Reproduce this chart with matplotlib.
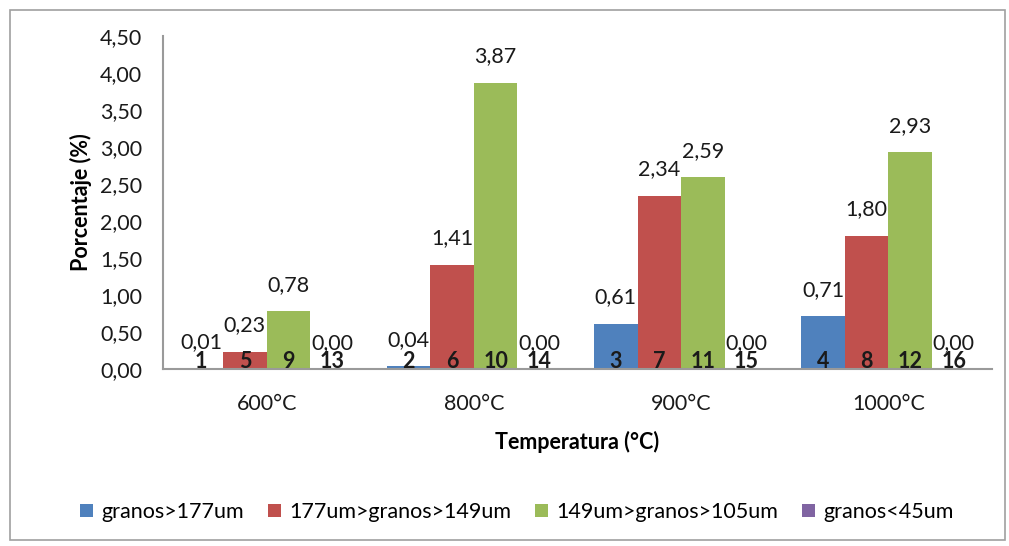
import matplotlib
matplotlib.use("Agg")
import matplotlib.pyplot as plt
from matplotlib.patches import Rectangle
import numpy as np

plt.rcParams['font.family'] = ['Lato', 'DejaVu Sans']

categories = ["600°C", "800°C", "900°C", "1000°C"]
series_names = ["granos>177um", "177um>granos>149um", "149um>granos>105um", "granos<45um"]
blue_vals = [0.01, 0.04, 0.61, 0.71]
red_vals = [0.23, 1.41, 2.34, 1.80]
green_vals = [0.78, 3.87, 2.59, 2.93]
purple_vals = [0.00, 0.00, 0.00, 0.00]
bar_numbers = [[1, 2, 3, 4], [5, 6, 7, 8], [9, 10, 11, 12], [13, 14, 15, 16]]
yticks = [0.0, 0.5, 1.0, 1.5, 2.0, 2.5, 3.0, 3.5, 4.0, 4.5]

colors = ["#4F81BD", "#C0504D", "#9BBB59", "#8064A2"]
all_vals = [blue_vals, red_vals, green_vals, purple_vals]
FS = 15.5

fig = plt.figure(figsize=(10.09, 5.46), dpi=100)
ax = fig.add_axes([163/1009, 1-369/546, (992-163)/1009, (369-36)/546])

x = np.arange(len(categories))
w = 0.21
for i, (vals, c, name) in enumerate(zip(all_vals, colors, series_names)):
    pos = x + (i - 1.5) * w
    ax.bar(pos, vals, w, color=c, label=name, edgecolor='none')
    for p, v, n in zip(pos, vals, bar_numbers[i]):
        ax.annotate(f"{v:.2f}".replace('.', ','), (p, v), xytext=(0, 19),
                    textcoords='offset points', ha='center', va='center',
                    fontsize=FS, color='#1a1a1a')
        ax.annotate(str(n), (p, 0), xytext=(0, 5.5), textcoords='offset points',
                    ha='center', va='center', fontsize=FS, fontweight='bold',
                    color='#1a1a1a')

ax.set_xlim(-0.5, 3.5)
ax.set_ylim(0, 4.5)
ax.set_yticks(yticks)
ax.set_yticklabels([f"{t:.2f}".replace('.', ',') for t in yticks], fontsize=FS, color='#1a1a1a')
ax.set_xticks(x)
ax.set_xticklabels(categories, fontsize=FS, color='#1a1a1a')
ax.tick_params(axis='both', length=0)
ax.tick_params(axis='y', pad=15)
ax.tick_params(axis='x', pad=18)
for s in ['top', 'right']:
    ax.spines[s].set_visible(False)
for s in ['left', 'bottom']:
    ax.spines[s].set_color('#9a9a9a')
    ax.spines[s].set_linewidth(1.5)

ax.set_xlabel("Temperatura (°C)", fontsize=FS, fontweight='bold', labelpad=12)
ax.set_ylabel("Porcentaje (%)", fontsize=FS, fontweight='bold', labelpad=6)

handles, labels = ax.get_legend_handles_labels()
fig.legend(handles, labels, loc='center', bbox_to_anchor=(517/1009, 1-512/546),
           ncol=4, frameon=False, fontsize=FS, handlelength=0.6, handleheight=0.6,
           handletextpad=0.4, columnspacing=1.1)

fig.patches.append(Rectangle((10/1009, 1-540/546), 995/1009, 530/546,
                             transform=fig.transFigure, fill=False,
                             edgecolor='#a0a0a0', linewidth=1.2))

fig.savefig("out.png", dpi=100)
